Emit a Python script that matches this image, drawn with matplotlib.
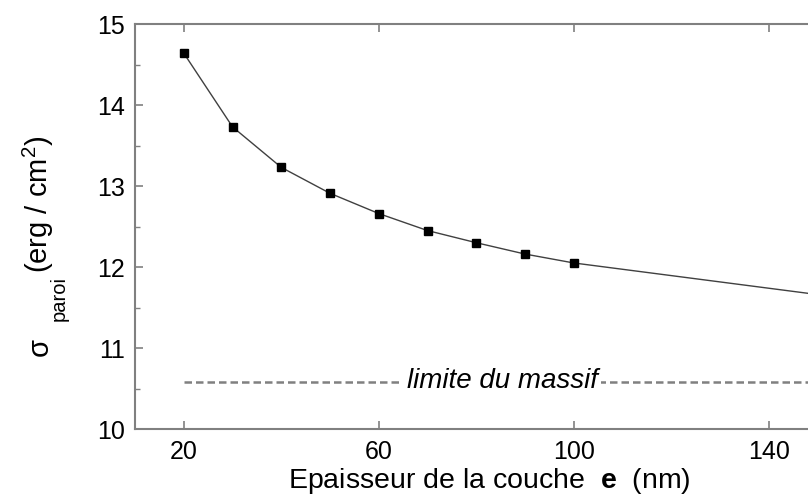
import matplotlib
matplotlib.use('Agg')
import matplotlib.pyplot as plt
from matplotlib.ticker import MultipleLocator, FixedLocator

plt.rcParams['font.family'] = ['Liberation Sans', 'DejaVu Sans']
plt.rcParams['mathtext.fontset'] = 'custom'
plt.rcParams['mathtext.rm'] = 'Liberation Sans'
plt.rcParams['mathtext.it'] = 'Liberation Sans:italic'
plt.rcParams['mathtext.bf'] = 'Liberation Sans:bold'

# measured points (thickness in nm, wall energy in erg/cm2)
thickness = [20, 30, 40, 50, 60, 70, 80, 90, 100]
sigma_wall = [14.64, 13.73, 13.23, 12.91, 12.66, 12.45, 12.30, 12.16, 12.05]
# extension of the curve beyond the last measured point
ext_thickness = [100, 150]
ext_sigma = [12.05, 11.66]
# bulk limit
bulk_limit = 10.58
bulk_range = [20, 150]

W, H = 808, 495
fig = plt.figure(figsize=(W / 100, H / 100), dpi=100)
ax = fig.add_axes([0.1671, 0.1333, 0.8447, 0.8182])


def px(x, y):
    # pixel position (from top-left) -> figure fraction
    return x / W, (H - y) / H


ax.plot(thickness, sigma_wall, '-', color='#404040', lw=1.0, zorder=3)
ax.plot(ext_thickness, ext_sigma, '-', color='#404040', lw=1.0, zorder=3)
ax.plot(thickness, sigma_wall, 's', color='black', markersize=6.2, zorder=4)

ax.plot(bulk_range, [bulk_limit, bulk_limit], '--', color='#808080', lw=1.8,
        dashes=(3, 1.6), zorder=2)
ax.text(85.3, 10.506, 'limite du massif', fontsize=20, style='italic',
        ha='center', va='baseline', zorder=3,
        bbox=dict(facecolor='white', edgecolor='none', pad=2.5))

ax.set_xlim(10, 150)
ax.set_ylim(10, 15)
ax.xaxis.set_major_locator(FixedLocator([20, 60, 100, 140]))
ax.yaxis.set_major_locator(MultipleLocator(1))
ax.yaxis.set_minor_locator(MultipleLocator(0.5))

spine_col = '#808080'
for s in ['left', 'bottom', 'top']:
    ax.spines[s].set_color(spine_col)
    ax.spines[s].set_linewidth(1.5)
ax.spines['right'].set_visible(False)

ax.tick_params(axis='x', which='major', direction='in', top=True, bottom=True,
               length=6, width=1.2, color=spine_col, labelsize=18, pad=8)
ax.tick_params(axis='y', which='major', direction='in', left=True, right=False,
               length=6, width=1.2, color=spine_col, labelsize=18, pad=7)
ax.tick_params(axis='y', which='minor', direction='in', left=True, right=False,
               length=3.5, width=1.0, color=spine_col)

# x label
fig.text(*px(489.5, 488), r'Epaisseur de la couche  $\mathbf{e}$  (nm)',
         fontsize=20.5, ha='center', va='baseline')

# y label built from rotated pieces: sigma, subscript, unit
fig.text(*px(48, 356), 'σ', fontsize=21, rotation=90,
         rotation_mode='anchor', ha='left', va='baseline')
fig.text(*px(65, 321), 'paroi', fontsize=14.5, rotation=90,
         rotation_mode='anchor', ha='left', va='baseline')
fig.text(*px(48, 273), r'(erg / cm$^{2}$)', fontsize=21, rotation=90,
         rotation_mode='anchor', ha='left', va='baseline')

fig.savefig('out.png', dpi=100)
